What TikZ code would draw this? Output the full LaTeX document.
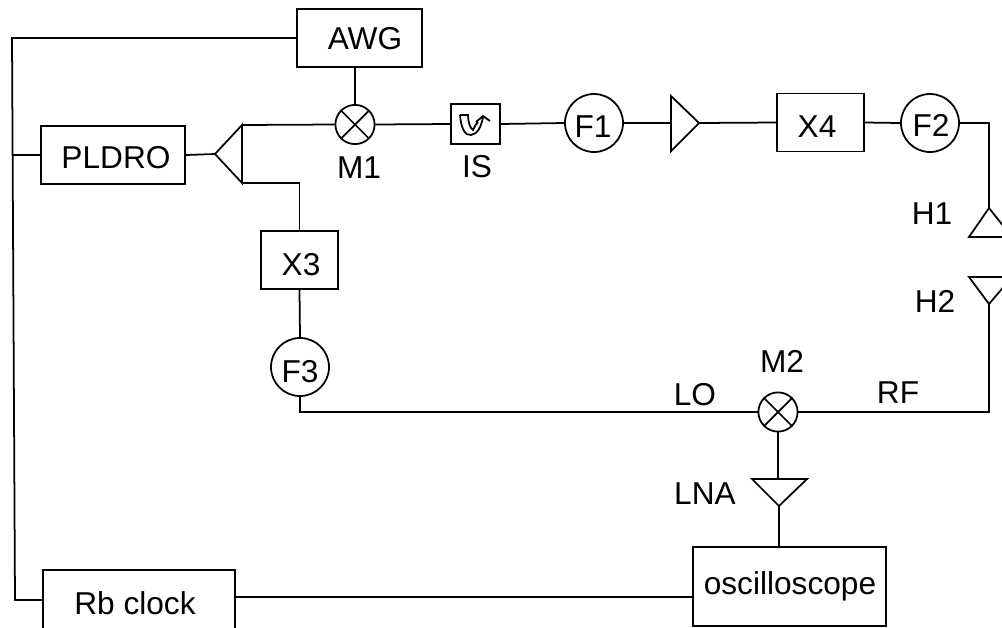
\documentclass[tikz,border=0pt]{standalone}
\usepackage{fontspec}
\setmainfont{Liberation Sans}
\usetikzlibrary{positioning}
\tikzset{
  blockbox/.style={draw,minimum height=1.45cm,inner sep=0pt},
  filterc/.style={draw,circle,minimum size=1.45cm,inner sep=0pt},
  mixerc/.style={draw,circle,minimum size=0.98cm,inner sep=0pt},
  lab/.style={inner sep=0pt}
}
\begin{document}
\begin{tikzpicture}[x=0.025cm,y=-0.025cm,line width=1.25pt,font=\fontsize{22.5}{25}\selectfont]
  \useasboundingbox (0,0) rectangle (1002,627);
  \begin{scope}
  \clip (0,0) rectangle (1002,627);
  % top row
  \node[blockbox,minimum width=3.12cm] (awg) at (359.5,38) {};
  \node[mixerc] (m1) at (355,124.5) {};
  \draw (m1.45) -- (m1.225) (m1.135) -- (m1.315);
  \node[blockbox,minimum width=1.22cm,minimum height=1cm] (is) at (475.5,124) {};
  \node[filterc] (f1) at (594,123) {};
  \coordinate (ampa) at (671,96);
  \coordinate (ampb) at (671,151);
  \coordinate (amptip) at (699,123);
  \draw (ampa) -- (amptip) -- (ampb) -- cycle;
  \node[blockbox,minimum width=2.18cm] (x4) at (820.5,122.5) {};
  \node[filterc] (f2) at (930,123) {};
  % isolator symbol
  \draw (460,115) .. controls (461,128) and (465,136) .. (471,135)
        .. controls (477,134) and (481,128) .. (483,117)
        (460,115) -- (468,115) .. controls (468,122) and (470,128) .. (473,130)
        .. controls (475,126) and (476,124) .. (478,122)
        (476,122) -- (483,116) -- (490,121);
  % left column
  \node[blockbox,minimum width=3.6cm] (pldro) at (113,155) {};
  \coordinate (splittip) at (215,154);
  \coordinate (splita) at (242,125);
  \coordinate (splitb) at (242,183);
  \draw (splittip) -- (splita) -- (splitb) -- cycle;
  \node[blockbox,minimum width=1.93cm] (x3) at (299.5,260) {};
  \node[filterc] (f3) at (300,367) {};
  % horns
  \coordinate (h1tip) at (989,208);
  \draw (h1tip) -- (969,237) -- (1012,237) -- cycle;
  \coordinate (h2tip) at (989,304);
  \draw (h2tip) -- (969,277) -- (1012,277) -- cycle;
  % bottom row
  \node[mixerc] (m2) at (778,412) {};
  \draw (m2.45) -- (m2.225) (m2.135) -- (m2.315);
  \coordinate (lnaa) at (752,479);
  \coordinate (lnab) at (807,479);
  \coordinate (lnatip) at (779,506);
  \draw (lnaa) -- (lnab) -- (lnatip) -- cycle;
  \node[draw,minimum width=4.82cm,minimum height=1.98cm,inner sep=0pt] (osc) at (789.5,586.5) {};
  \node[draw,minimum width=4.8cm,minimum height=2cm,inner sep=0pt] (rb) at (139,610) {};
  % connectors
  \coordinate (lt) at (12,38);
  \coordinate (lb) at (15,600);
  \coordinate (lm) at (13,155);
  \draw (awg.west) -- (lt) -- (lb) -- (rb.west |- lb);
  \draw (lm) -- (pldro.west);
  \draw (pldro.east) -- (splittip);
  \draw (splita) -- (m1.west) (m1.east) -- (is.west);
  \draw (awg.south -| m1) -- (m1.north);
  \draw (is.east) -- (f1.west) (f1.east) -- (amptip -| ampa);
  \draw (amptip) -- (x4.west) (x4.east) -- (f2.west);
  \draw (f2.east) -| (h1tip);
  \draw (h2tip) |- (m2.east);
  \draw (splitb) -| (x3.north);
  \draw (x3.south) -- (f3.north);
  \draw (f3.south) |- (m2.west);
  \draw (m2.south) -- (m2.south |- lnaa);
  \draw (lnatip) -- (lnatip |- osc.north);
  \draw (rb.east |- 0,597) -- (osc.west |- 0,597);
  \end{scope}
  % labels
  \node[lab] (awglab) at (365,39) {AWG};
  \node[lab] (pldrolab) at (116,158) {PLDRO};
  \node[lab] (x3lab) at (301,265) {X3};
  \node[lab] (x4lab) at (817,127) {X4};
  \node[lab] (f1lab) at (593,127) {F1};
  \node[lab] (f2lab) at (931,125) {F2};
  \node[lab] (f3lab) at (300,372) {F3};
  \node[lab] (osclab) at (790,586) {oscilloscope};
  \node[lab] (rblab) at (135,603) {Rb clock};
  \node[lab] (m1lab) at (359,168) {M1};
  \node[lab] (islab) at (477,167) {IS};
  \node[lab] (h1lab) at (932,214) {H1};
  \node[lab] (h2lab) at (935,301) {H2};
  \node[lab] (m2lab) at (782,361) {M2};
  \node[lab] (lolab) at (695,395) {LO};
  \node[lab] (rflab) at (898,393) {RF};
  \node[lab] (lnalab) at (705,494) {LNA};
\end{tikzpicture}
\end{document}
